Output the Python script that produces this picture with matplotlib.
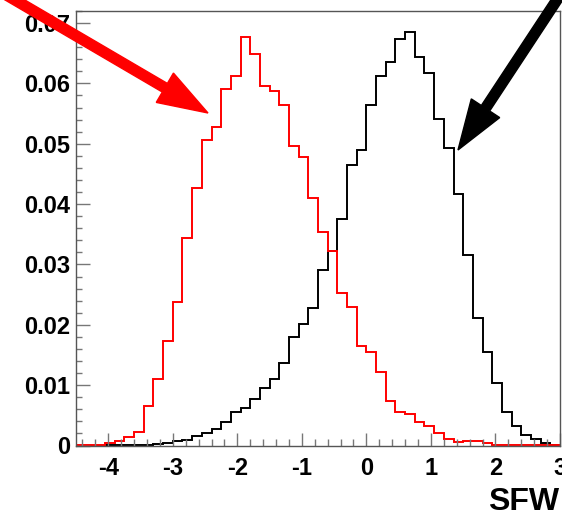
import numpy as np
import matplotlib
matplotlib.use('Agg')
import matplotlib.pyplot as plt
from matplotlib.patches import FancyArrow
from matplotlib.ticker import MultipleLocator
import matplotlib.transforms as mtransforms

# Histogram binning: 50 bins between -4.5 and 3
x_min, x_max, n_bins = -4.5, 3.0, 50

# Bin contents (normalised)
red_values = [0.0001, 0.0001, 0.0001, 0.00036, 0.00075, 0.0014, 0.0022, 0.0066, 0.01103, 0.01738,
              0.0238, 0.03436, 0.04275, 0.05066, 0.0527, 0.0591, 0.0613, 0.0677, 0.0648, 0.0596,
              0.0588, 0.0564, 0.0497, 0.0478, 0.0410, 0.03536, 0.03226, 0.02524, 0.02302, 0.01655,
              0.01545, 0.01214, 0.00733, 0.0056, 0.00517, 0.00395, 0.00323, 0.00212, 0.00112, 0.0005,
              0.00078, 0.00078, 0.00036, 0.0001, 0.00005, 0.00005, 0.00003, 0.00003, 0.00002, 0.00002]

black_values = [0, 0, 0, 0.00003, 0.00005, 0.00008, 0.0001, 0.00015, 0.00025, 0.00045,
                0.00075, 0.0009, 0.00158, 0.002, 0.0027, 0.0039, 0.0055, 0.00627, 0.00776, 0.0095,
                0.0110, 0.01368, 0.01804, 0.0201, 0.02275, 0.0291, 0.0323, 0.03756, 0.04652, 0.0490,
                0.05647, 0.06128, 0.0635, 0.0674, 0.0686, 0.0643, 0.0618, 0.0541, 0.0493, 0.04166,
                0.0316, 0.0211, 0.01556, 0.0104, 0.0056, 0.00325, 0.00174, 0.001, 0.0004, 0.0001]

y_ticks = [0, 0.01, 0.02, 0.03, 0.04, 0.05, 0.06, 0.07]
y_tick_labels = ['0', '0.01', '0.02', '0.03', '0.04', '0.05', '0.06', '0.07']
x_ticks = [-4, -3, -2, -1, 0, 1, 2, 3]
x_tick_labels = ['-4', '-3', '-2', '-1', '0', '1', '2', '3']
x_title = 'SFW'

W, H = 562, 517
fig = plt.figure(figsize=(W / 100, H / 100), dpi=100)
ax = fig.add_axes([76 / W, 1 - 445.5 / H, 484 / W, 434.5 / H])

edges = np.linspace(x_min, x_max, n_bins + 1)
ax.stairs(black_values, edges, color='black', linewidth=1.4, baseline=0)
ax.stairs(red_values, edges, color='#ff0000', linewidth=1.4, baseline=0)

ax.set_xlim(x_min, x_max)
ax.set_ylim(0, 0.072)

# ROOT style frame and ticks
for s in ax.spines.values():
    s.set_color('#555555')
    s.set_linewidth(1.0)

ax.set_yticks(y_ticks)
ax.set_yticklabels(y_tick_labels)
ax.set_xticks(x_ticks)
ax.set_xticklabels(x_tick_labels)
ax.yaxis.set_minor_locator(MultipleLocator(0.002))
ax.xaxis.set_minor_locator(MultipleLocator(0.2))

font = dict(family='Liberation Sans', weight='bold')
ax.tick_params(axis='y', which='major', direction='in', length=10, width=1, color='#777777', pad=4,
               labelsize=17)
ax.tick_params(axis='y', which='minor', direction='in', length=4.5, width=1, color='#777777')
ax.tick_params(axis='x', which='major', direction='in', length=9.5, width=1, color='#777777', pad=8,
               labelsize=17)
ax.tick_params(axis='x', which='minor', direction='in', length=5, width=1, color='#777777')
for lab in ax.get_xticklabels() + ax.get_yticklabels():
    lab.set_fontfamily('Liberation Sans')
    lab.set_fontweight('bold')

fig.text(559 / W, 1 - 502 / H, x_title, ha='right', va='center', fontsize=23, **font)

# Arrows drawn in image pixel coordinates (y measured from the top)
pix = mtransforms.Affine2D().scale(1 / W, -1 / H).translate(0, 1) + fig.transFigure


def draw_arrow(tail, tip, color):
    dx = tip[0] - tail[0]
    dy = tip[1] - tail[1]
    arr = FancyArrow(tail[0], tail[1], dx, dy, width=10, head_width=34, head_length=50,
                     length_includes_head=True, color=color, transform=pix, zorder=10)
    fig.add_artist(arr)


draw_arrow((-20, -20.5), (208, 113), '#ff0000')
draw_arrow((570, -20), (458, 150), 'black')

fig.savefig('out.png', dpi=100)
